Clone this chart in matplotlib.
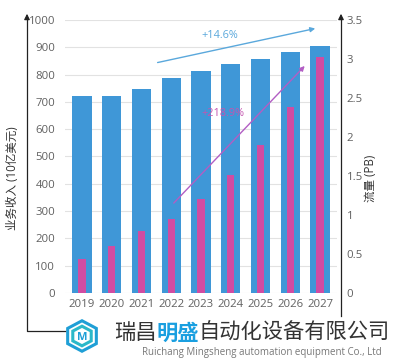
import matplotlib.pyplot as plt
from matplotlib.patches import RegularPolygon
import numpy as np

plt.rcParams['font.family'] = ['Open Sans', 'Noto Sans CJK SC', 'DejaVu Sans']

years = ["2019", "2020", "2021", "2022", "2023", "2024", "2025", "2026", "2027"]
revenue = [722, 722, 749, 789, 813, 837, 858, 881, 903]   # 10亿美元
traffic = [0.44, 0.60, 0.79, 0.95, 1.20, 1.51, 1.90, 2.39, 3.02]  # PB

blue = "#3f97d7"
pink = "#d04ca2"
tick_col = "#606060"

fig = plt.figure(figsize=(3.94, 3.63), dpi=100)
ax = fig.add_axes([65 / 394, 70 / 363, 272 / 394, 273 / 363])
ax2 = ax.twinx()

x = np.arange(len(years))
ax.bar(x, revenue, width=0.65, color=blue, zorder=2)
ax2.bar(x, traffic, width=0.24, color=pink, zorder=3)

ax.set_xlim(-0.57, 8.57)
ax.set_ylim(0, 1000)
ax2.set_ylim(0, 3.5)
ax.set_yticks(range(0, 1001, 100))
ax2.set_yticks(np.arange(0, 3.51, 0.5))
ax2.set_yticklabels(["0", "0.5", "1", "1.5", "2", "2.5", "3", "3.5"])
ax.set_xticks(x)
ax.set_xticklabels(years)
ax.grid(axis='y', color="#e2e2e2", linewidth=0.8, zorder=0)
ax.set_axisbelow(True)

for a in (ax, ax2):
    for s in a.spines.values():
        s.set_visible(False)
    a.tick_params(length=0, labelsize=8.2, colors=tick_col)
ax.tick_params(axis='y', pad=7)
ax2.tick_params(axis='y', pad=7)
ax.tick_params(axis='x', pad=4)

# growth arrows
ax.annotate("", xy=(7.93, 971), xytext=(2.45, 842),
            arrowprops=dict(arrowstyle="-|>", color="#5aa8dc", lw=1.0,
                            mutation_scale=7), zorder=5)
ax.text(4.64, 945, "+14.6%", color="#5aa8dc", fontsize=7.8,
        ha='center', va='center', zorder=5)
ax.annotate("", xy=(7.55, 839), xytext=(3.02, 322),
            arrowprops=dict(arrowstyle="-|>", color="#b25ec4", lw=1.0,
                            mutation_scale=7), zorder=5)
ax.text(4.74, 659, "+218.9%", color="#c455b0", fontsize=7.8,
        ha='center', va='center', zorder=5)

# axis lines with arrows, drawn in figure pixels
def fx(px):
    return px / 394

def fy(py):
    return 1 - py / 363

fig.add_artist(plt.Line2D([fx(65), fx(27), fx(27)], [fy(331), fy(331), fy(18)],
                          color="#222222", lw=0.9))
fig.add_artist(plt.Line2D([fx(341), fx(341)], [fy(316), fy(18)],
                          color="#222222", lw=0.9))
for px in (27, 341):
    ax.annotate("", xy=(fx(px), fy(11)), xytext=(fx(px), fy(20)),
                xycoords='figure fraction',
                arrowprops=dict(arrowstyle="-|>", color="#222222", lw=0.9,
                                mutation_scale=8))

fig.text(fx(13), fy(178), "业务收入 (10亿美元)", rotation=90, ha='center',
         va='center', fontsize=8.3, color="#333333")
fig.text(fx(371), fy(178), "流量 (PB)", rotation=90, ha='center',
         va='center', fontsize=8.3, color="#333333")

# company logo
for r, c in ((0.042, "#1f9fd6"), (0.027, "#2bb8c9")):
    fig.add_artist(RegularPolygon((fx(82), fy(336)), 6, radius=r,
                                  transform=fig.transFigure, fill=False,
                                  ec=c, lw=2.2))
fig.text(fx(82), fy(337), "M", ha='center', va='center', fontsize=8,
         color="#1f9fd6", fontweight='bold')

renderer = fig.canvas.get_renderer()
xpos = fx(114)
for part, col in (("瑞昌", "#333333"), ("明盛", "#1a9fe0"), ("自动化设备有限公司", "#333333")):
    t = fig.text(xpos, fy(333), part, ha='left', va='center', fontsize=15.3,
                 color=col, family=['Noto Sans CJK SC'],
                 fontweight='bold' if part == "明盛" else 'normal')
    bb = t.get_window_extent(renderer)
    xpos += bb.width / fig.bbox.width
fig.text(fx(262), fy(353), "Ruichang Mingsheng automation equipment Co., Ltd",
         ha='center', va='center', fontsize=7, color="#777777")

fig.savefig("out.png", dpi=100)
